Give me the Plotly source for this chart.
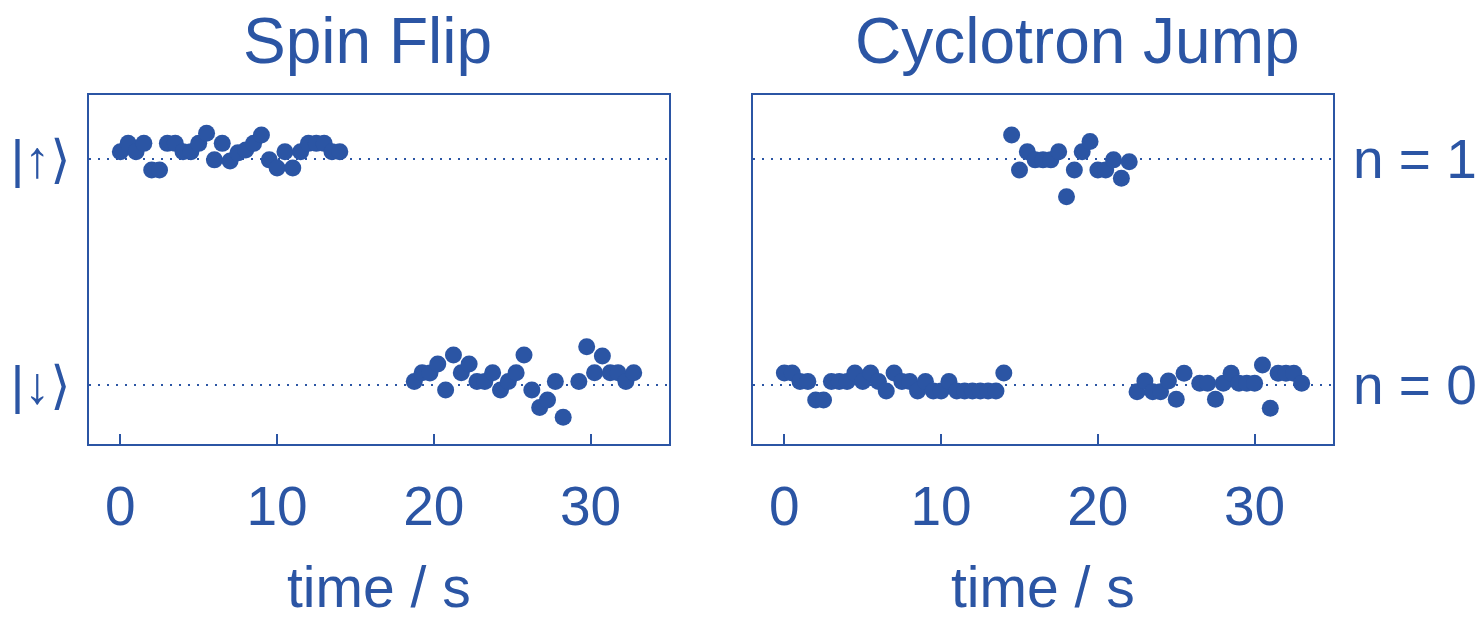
import plotly.graph_objects as go

BLUE = "#2b55a4"
FONT = "Liberation Sans, Arial, sans-serif"

# Spin Flip: measured level vs. time (1 = spin up, 0 = spin down)
spin_up_t = [0, 0.5, 1, 1.5, 2, 2.5, 3, 3.5, 4, 4.5, 5, 5.5, 6, 6.5, 7, 7.5,
             8, 8.5, 9, 9.5, 10, 10.5, 11, 11.5, 12, 12.5, 13, 13.5, 14]
spin_up_v = [1.032, 1.069, 1.032, 1.069, 0.951, 0.951, 1.069, 1.069, 1.032, 1.032,
             1.069, 1.114, 0.996, 1.069, 0.991, 1.027, 1.040, 1.069, 1.106, 0.996,
             0.960, 1.032, 0.960, 1.032, 1.069, 1.069, 1.069, 1.032, 1.032]
spin_dn_t = [18.75, 19.25, 19.75, 20.25, 20.75, 21.25, 21.75, 22.25, 22.75, 23.25,
             23.75, 24.25, 24.75, 25.25, 25.75, 26.25, 26.75, 27.25, 27.75, 28.25,
             29.25, 29.75, 30.25, 30.75, 31.25, 31.75, 32.25, 32.75]
spin_dn_v = [0.015, 0.054, 0.053, 0.093, -0.022, 0.133, 0.054, 0.093, 0.015, 0.015,
             0.054, -0.022, 0.015, 0.054, 0.133, -0.022, -0.100, -0.066, 0.015, -0.143,
             0.015, 0.169, 0.054, 0.128, 0.054, 0.054, 0.015, 0.054]

# Cyclotron Jump: measured level vs. time (1 = n=1, 0 = n=0)
cyc_dn1_t = [0, 0.5, 1, 1.5, 2, 2.5, 3, 3.5, 4, 4.5, 5, 5.5, 6, 6.5, 7, 7.5,
             8, 8.5, 9, 9.5, 10, 10.5, 11, 11.5, 12, 12.5, 13, 13.5, 14]
cyc_dn1_v = [0.053, 0.053, 0.015, 0.015, -0.066, -0.066, 0.015, 0.015, 0.015, 0.053,
             0.015, 0.053, 0.015, -0.027, 0.053, 0.015, 0.015, -0.027, 0.015, -0.027,
             -0.027, 0.015, -0.027, -0.027, -0.027, -0.027, -0.027, -0.027, 0.053]
cyc_up_t = [14.5, 15, 15.5, 16, 16.5, 17, 17.5, 18, 18.5, 19, 19.5, 20, 20.5, 21, 21.5, 22]
cyc_up_v = [1.106, 0.951, 1.032, 0.996, 0.996, 0.996, 1.032, 0.833, 0.951, 1.032,
            1.077, 0.951, 0.951, 0.996, 0.915, 0.988]
cyc_dn2_t = [22.5, 23, 23.5, 24, 24.5, 25, 25.5, 26.5, 27, 27.5, 28, 28.5, 29, 29.5,
             30, 30.5, 31, 31.5, 32, 32.5, 33]
cyc_dn2_v = [-0.030, 0.018, -0.030, -0.030, 0.018, -0.063, 0.052, 0.008, 0.008, -0.063,
             0.008, 0.052, 0.008, 0.008, 0.008, 0.088, -0.103, 0.052, 0.052, 0.052, 0.008]

x_ticks = [0, 10, 20, 30]
x_tick_labels = ["0", "10", "20", "30"]
spin_levels = [0, 1]
spin_labels = ["|\u2193\u27e9", "|\u2191\u27e9"]
cyc_levels = [0, 1]
cyc_labels = ["n = 0", "n = 1"]
titles = ["Spin Flip", "Cyclotron Jump"]
x_title = "time / s"

fig = go.Figure()

marker = dict(color=BLUE, size=17, line=dict(width=0))
for t, v in [(spin_up_t, spin_up_v), (spin_dn_t, spin_dn_v)]:
    fig.add_trace(go.Scatter(x=t, y=v, mode="markers", marker=marker,
                             xaxis="x", yaxis="y", showlegend=False))
for t, v in [(cyc_dn1_t, cyc_dn1_v), (cyc_up_t, cyc_up_v), (cyc_dn2_t, cyc_dn2_v)]:
    fig.add_trace(go.Scatter(x=t, y=v, mode="markers", marker=marker,
                             xaxis="x2", yaxis="y2", showlegend=False))

W, H = 1482, 622
dom_l = [89 / W, 669 / W]
dom_r = [753 / W, 1333 / W]
dom_y = [(H - 444) / H, (H - 95) / H]

xaxis_common = dict(range=[-2, 35], tickvals=x_ticks, ticktext=x_tick_labels,
                    ticks="inside", ticklen=10, tickwidth=2, tickcolor=BLUE,
                    showline=True, linecolor=BLUE, linewidth=2, mirror=True,
                    showgrid=False, zeroline=False, automargin=False,
                    tickfont=dict(family=FONT, size=55, color=BLUE),
                    ticklabelstandoff=13)
yaxis_common = dict(range=[-0.261, 1.283], automargin=False,
                    ticks="", showline=True, linecolor=BLUE, linewidth=2, mirror=True,
                    showgrid=False, zeroline=False)

fig.update_layout(
    width=W, height=H,
    margin=dict(l=0, r=0, t=0, b=0),
    paper_bgcolor="white", plot_bgcolor="white",
    xaxis=dict(domain=dom_l, anchor="y", **xaxis_common),
    xaxis2=dict(domain=dom_r, anchor="y2", **xaxis_common),
    yaxis=dict(domain=dom_y, anchor="x", tickvals=spin_levels, ticktext=spin_labels,
               tickfont=dict(family="Liberation Sans, DejaVu Sans", size=52, color=BLUE),
               ticklabelstandoff=6, **yaxis_common),
    yaxis2=dict(domain=dom_y, anchor="x2", side="right", tickvals=cyc_levels,
                ticktext=cyc_labels,
                tickfont=dict(family=FONT, size=55, color=BLUE),
                ticklabelstandoff=7, **yaxis_common),
)

# dotted reference levels across each panel
for xr, yr in [("x domain", "y"), ("x2 domain", "y2")]:
    for lvl in [0, 1]:
        fig.add_shape(type="line", xref=xr, yref=yr, x0=0, x1=1, y0=lvl, y1=lvl,
                      line=dict(color=BLUE, width=2, dash="2px,7px"), layer="below")

# panel titles
for x_px, txt in [(367, titles[0]), (1077, titles[1])]:
    fig.add_annotation(text=txt, x=x_px / W, y=1 - 41 / H, xref="paper", yref="paper",
                       xanchor="center", yanchor="middle", showarrow=False,
                       font=dict(family=FONT, size=64, color=BLUE))

# x axis titles
for x_px in [379, 1043]:
    fig.add_annotation(text=x_title, x=x_px / W, y=1 - 587 / H, xref="paper", yref="paper",
                       xanchor="center", yanchor="middle", showarrow=False, borderpad=0,
                       font=dict(family=FONT, size=57, color=BLUE))

fig.write_html("out.html")
